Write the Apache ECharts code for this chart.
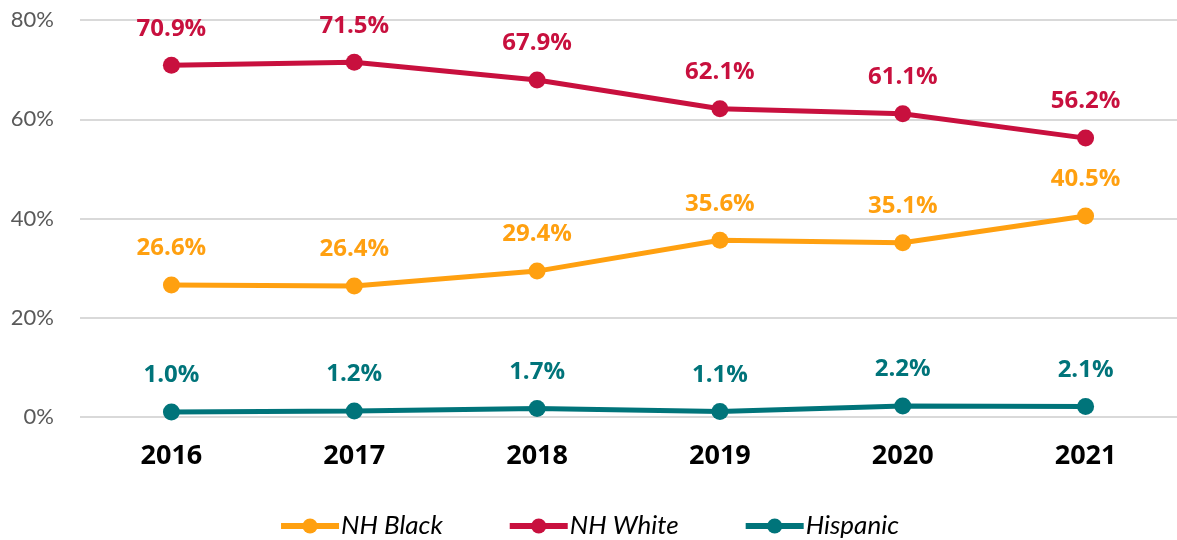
<!DOCTYPE html>
<html><head><meta charset="utf-8">
<script src="https://cdn.jsdelivr.net/npm/echarts@6/dist/echarts.min.js"></script>
<style>html,body{margin:0;padding:0;background:#fff}#c{width:1177px;height:540px}</style>
</head><body><div id="c"></div>
<script>
const years = ['2016','2017','2018','2019','2020','2021'];
const nhBlack = [26.6, 26.4, 29.4, 35.6, 35.1, 40.5];
const nhWhite = [70.9, 71.5, 67.9, 62.1, 61.1, 56.2];
const hispanic = [1.0, 1.2, 1.7, 1.1, 2.2, 2.1];
const yTicks = {min: 0, max: 80, interval: 20};

const font = 'Lato, "Open Sans", sans-serif';
const boldFont = '"Open Sans", Lato, sans-serif';
function mk(name, data, color) {
  return {
    name, type: 'line', data,
    lineStyle: {width: 5, color},
    itemStyle: {color},
    symbol: 'circle', symbolSize: 17,
    label: {show: true, position: 'top', distance: 16, color, fontFamily: boldFont,
      fontWeight: 'bold', fontSize: 24, formatter: p => p.value.toFixed(1) + '%'}
  };
}
const chart = echarts.init(document.getElementById('c'));
chart.setOption({
  animation: false,
  grid: {left: 80, right: 0, top: 20, bottom: 123},
  legend: {top: 508, itemWidth: 58, itemHeight: 19, itemGap: 64,
    lineStyle: {width: 6},
    textStyle: {fontFamily: font, fontStyle: 'italic', fontSize: 26, color: '#000', padding: [0,0,0,-3]},
    data: ['NH Black','NH White','Hispanic']},
  xAxis: {type: 'category', data: years, axisLine: {show: false}, axisTick: {show: false},
    axisLabel: {fontFamily: boldFont, fontWeight: 'bold', fontSize: 27, color: '#000', margin: 26}},
  yAxis: {type: 'value', min: yTicks.min, max: yTicks.max, interval: yTicks.interval,
    axisLabel: {formatter: '{value}%', fontFamily: font, fontSize: 22, color: '#595959', margin: 26},
    splitLine: {lineStyle: {color: '#d9d9d9', width: 2}}},
  series: [mk('NH Black', nhBlack, '#FFA010'), mk('NH White', nhWhite, '#C8103E'), mk('Hispanic', hispanic, '#00747A')]
});
</script></body></html>
